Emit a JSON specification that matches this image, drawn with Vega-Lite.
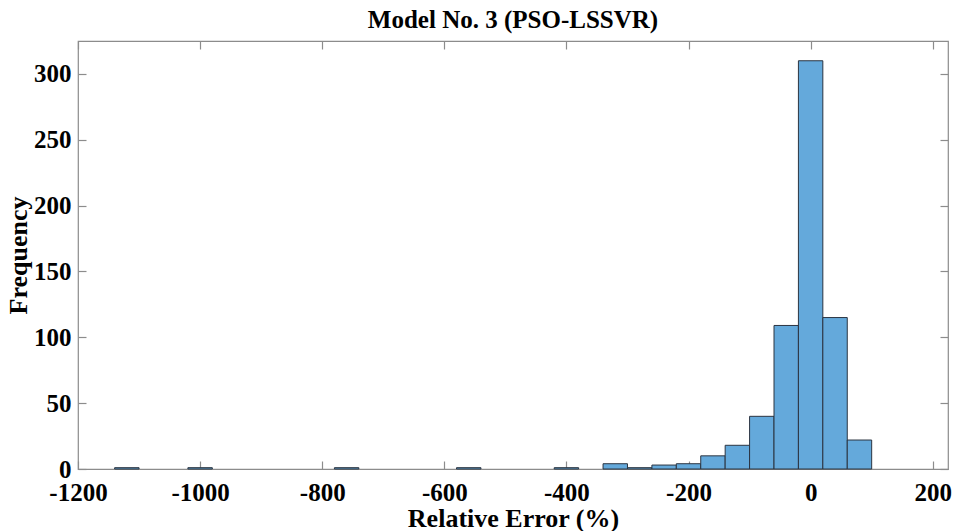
{
  "$schema": "https://vega.github.io/schema/vega-lite/v6.json",
  "autosize": "none",
  "width": 870,
  "height": 428,
  "padding": {"left": 78, "top": 41, "right": 6, "bottom": 62},
  "background": "white",
  "config": {
    "view": {"stroke": "#8c8c8c", "strokeWidth": 1.2},
    "font": "Liberation Serif",
    "axis": {
      "labelFont": "Liberation Serif",
      "labelFontSize": 25,
      "labelFontWeight": "bold",
      "labelColor": "black",
      "titleFont": "Liberation Serif",
      "titleFontSize": 26,
      "titleFontWeight": "bold",
      "titleColor": "black",
      "grid": false,
      "domain": false,
      "tickColor": "#8c8c8c",
      "tickSize": -8,
      "tickWidth": 1.2
    }
  },
  "title": {
    "text": "Model No. 3 (PSO-LSSVR)",
    "font": "Liberation Serif",
    "fontSize": 25,
    "fontWeight": "bold",
    "color": "black",
    "offset": 7
  },
  "data": {
    "values": [
      {"bin_start": -1140, "bin_end": -1100, "count": 1},
      {"bin_start": -1020, "bin_end": -980, "count": 1},
      {"bin_start": -780, "bin_end": -740, "count": 1},
      {"bin_start": -580, "bin_end": -540, "count": 1},
      {"bin_start": -420, "bin_end": -380, "count": 1},
      {"bin_start": -340, "bin_end": -300, "count": 4},
      {"bin_start": -300, "bin_end": -260, "count": 1},
      {"bin_start": -260, "bin_end": -220, "count": 3},
      {"bin_start": -220, "bin_end": -180, "count": 4},
      {"bin_start": -180, "bin_end": -140, "count": 10},
      {"bin_start": -140, "bin_end": -100, "count": 18},
      {"bin_start": -100, "bin_end": -60, "count": 40},
      {"bin_start": -60, "bin_end": -20, "count": 109},
      {"bin_start": -20, "bin_end": 20, "count": 310},
      {"bin_start": 20, "bin_end": 60, "count": 115},
      {"bin_start": 60, "bin_end": 100, "count": 22}
    ]
  },
  "layer": [
    {
      "mark": {"type": "rect", "fill": "#64a9db", "stroke": "#2b3440", "strokeWidth": 1},
      "encoding": {
        "x": {
          "field": "bin_start",
          "type": "quantitative",
          "scale": {"domain": [-1200, 225], "nice": false, "zero": false},
          "axis": {"orient": "bottom", "values": [-1200, -1000, -800, -600, -400, -200, 0, 200], "labelExpr": "toString(datum.value)", "title": "Relative Error (%)", "labelPadding": 19, "titlePadding": 0, "labelFlush": false}
        },
        "x2": {"field": "bin_end"},
        "y": {
          "field": "count",
          "type": "quantitative",
          "scale": {"domain": [0, 325], "nice": false},
          "axis": {"orient": "left", "values": [0, 50, 100, 150, 200, 250, 300], "title": "Frequency", "labelPadding": 15, "titlePadding": 2}
        },
        "y2": {"datum": 0}
      }
    },
    {
      "mark": {"type": "rect", "opacity": 0},
      "encoding": {
        "x": {
          "field": "bin_start",
          "type": "quantitative",
          "axis": {"orient": "top", "values": [-1200, -1000, -800, -600, -400, -200, 0, 200], "labels": false, "title": null}
        },
        "x2": {"field": "bin_end"},
        "y": {
          "field": "count",
          "type": "quantitative",
          "axis": {"orient": "right", "values": [0, 50, 100, 150, 200, 250, 300], "labels": false, "title": null}
        },
        "y2": {"datum": 0}
      }
    }
  ]
}
